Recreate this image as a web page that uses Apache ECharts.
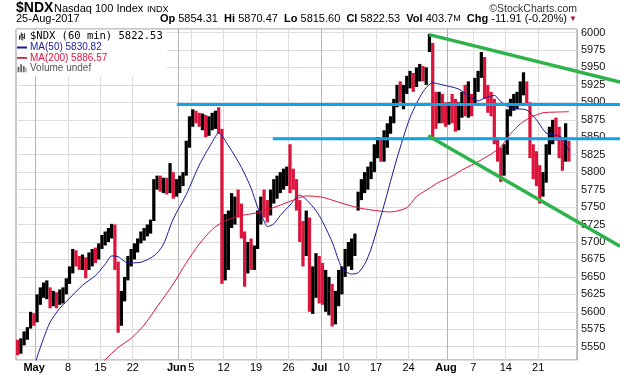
<!DOCTYPE html>
<html><head><meta charset="utf-8">
<script src="https://cdn.jsdelivr.net/npm/echarts@6/dist/echarts.min.js"></script>
<style>html,body{margin:0;padding:0;background:#fff}#c{width:620px;height:376px}</style>
</head><body><div id="c"></div><script>
// ---------- DATA ----------
const tradingDays = [
 '2017-04-26','2017-04-27','2017-04-28',
 '2017-05-01','2017-05-02','2017-05-03','2017-05-04','2017-05-05',
 '2017-05-08','2017-05-09','2017-05-10','2017-05-11','2017-05-12',
 '2017-05-15','2017-05-16','2017-05-17','2017-05-18','2017-05-19',
 '2017-05-22','2017-05-23','2017-05-24','2017-05-25','2017-05-26',
 '2017-05-30','2017-05-31',
 '2017-06-01','2017-06-02',
 '2017-06-05','2017-06-06','2017-06-07','2017-06-08','2017-06-09',
 '2017-06-12','2017-06-13','2017-06-14','2017-06-15','2017-06-16',
 '2017-06-19','2017-06-20','2017-06-21','2017-06-22','2017-06-23',
 '2017-06-26','2017-06-27','2017-06-28','2017-06-29','2017-06-30',
 '2017-07-03','2017-07-05','2017-07-06','2017-07-07',
 '2017-07-10','2017-07-11','2017-07-12','2017-07-13','2017-07-14',
 '2017-07-17','2017-07-18','2017-07-19','2017-07-20','2017-07-21',
 '2017-07-24','2017-07-25','2017-07-26','2017-07-27','2017-07-28',
 '2017-07-31',
 '2017-08-01','2017-08-02','2017-08-03','2017-08-04',
 '2017-08-07','2017-08-08','2017-08-09','2017-08-10','2017-08-11',
 '2017-08-14','2017-08-15','2017-08-16','2017-08-17','2017-08-18',
 '2017-08-21','2017-08-22','2017-08-23','2017-08-24','2017-08-25'
];
const halfDays = ['2017-07-03'];
const padSlots = 2;
const firstOpen = 5550;

// half-day price ranges (low / high / close)
const lows = [5538,5540,5552,5560,5576,5580,5585,5610,5620,5618, 5605,5608,5605,5610,5612,5625,5640,5655,5665,5660,
 5660,5648,5660,5665,5670,5675,5690,5695,5700,5705, 5660,5570,5580,5615,5645,5665,5675,5685,5698,5702,
 5708,5712,5730,5775,5772,5770,5768,5770,5762,5765, 5770,5780,5795,5835,5865,5870,5865,5860,5850,5852,
 5860,5862,5855,5640,5645,5660,5720,5725,5735,5705, 5636,5655,5660,5660,5690,5725,5735,5728,5738,5755,
 5762,5770,5775,5780,5770,5775,5745,5700,5665,5680, 5600,5597,5620,5612,5610,5600,5595,5579,5582,5608,
 5625,5650,5665,5660,5680,5745,5760,5770,5775,5790, 5800,5820,5815,5815,5835,5855,5870,5893,5900,5890,
 5912,5920,5915,5922,5930,5930,5925,5972,5848,5862, 5870,5870,5865,5868,5870,5858,5860,5878,5880,5878,
 5880,5895,5915,5935,5905,5885,5880,5840,5815,5786, 5795,5825,5880,5888,5890,5895,5910,5895,5820,5790,
 5780,5755,5765,5785,5825,5840,5845,5820,5802,5815, 5815];
const highs = [5560,5562,5572,5578,5600,5598,5625,5635,5642,5645, 5635,5630,5628,5632,5635,5648,5665,5690,5688,5680,
 5682,5678,5685,5690,5692,5698,5710,5715,5720,5726, 5725,5672,5630,5650,5680,5690,5698,5705,5715,5720,
 5725,5732,5790,5795,5795,5792,5792,5813,5800,5790, 5795,5800,5845,5880,5890,5888,5885,5884,5882,5880,
 5885,5888,5893,5862,5740,5745,5770,5765,5775,5755, 5715,5700,5705,5695,5745,5765,5775,5760,5775,5790,
 5795,5800,5805,5808,5840,5805,5790,5760,5730,5745, 5735,5665,5684,5680,5670,5660,5650,5640,5630,5660,
 5665,5690,5700,5705,5712,5772,5790,5800,5808,5815, 5840,5850,5848,5860,5870,5880,5905,5925,5930,5925,
 5938,5945,5942,5950,5955,5952,5950,5998,5985,5915, 5915,5912,5900,5900,5912,5905,5900,5915,5925,5930,
 5912,5935,5945,5972,5965,5925,5915,5905,5850,5835, 5840,5890,5905,5912,5915,5930,5943,5930,5900,5840,
 5830,5810,5800,5840,5865,5875,5878,5865,5850,5870, 5845];
const closes = [5545,5556,5566,5574,5590,5586,5615,5628,5630,5635, 5615,5620,5612,5625,5630,5645,5660,5680,5672,5668,
 5675,5665,5678,5685,5682,5695,5705,5710,5712,5722, 5670,5590,5620,5645,5670,5685,5690,5700,5710,5715,
 5718,5728,5785,5785,5780,5788,5775,5790,5775,5780, 5790,5797,5840,5875,5880,5876,5872,5878,5860,5870,
 5878,5880,5860,5690,5700,5730,5745,5755,5745,5720, 5670,5690,5680,5688,5740,5755,5750,5740,5768,5780,
 5785,5790,5795,5800,5790,5785,5755,5710,5700,5735, 5640,5650,5670,5640,5620,5630,5640,5595,5610,5645,
 5655,5680,5690,5695,5708,5768,5785,5790,5800,5810, 5835,5835,5830,5850,5860,5870,5900,5915,5910,5915,
 5930,5935,5925,5942,5945,5938,5945,5980,5885,5880, 5895,5885,5875,5890,5880,5875,5890,5905,5895,5900,
 5895,5925,5940,5950,5915,5905,5895,5850,5825,5800, 5828,5885,5895,5900,5905,5920,5925,5900,5830,5805,
 5800,5775,5790,5835,5855,5860,5850,5835,5830,5835, 5822.53];

// moving averages: [slot index, value]
const ma50 = [[3,5490],[6,5535],[8,5562],[10,5585],[13,5605],[17,5624],[20,5638],[24,5652],[27,5668],[29,5680],
 [31,5679],[34,5670],[38,5671],[41,5677],[43,5684],[45,5697],[48,5733],[52,5768],[56,5810],[60,5843],[62,5856],
 [65,5838],[69,5807],[72,5777],[74,5750],[76,5730],[77,5722],[79,5726],[81,5738],[84,5753],[87,5767],[90,5756],
 [93,5738],[97,5700],[100,5663],[103,5654],[105,5656],[107,5668],[109,5690],[113,5753],[117,5820],[121,5878],
 [125,5915],[128,5928],[131,5925],[136,5919],[140,5906],[142,5902],[144,5906],[147,5910],[149,5901],[152,5892],
 [157,5889],[160,5875],[163,5856],[166,5853],[168,5849],[170,5830.82]];
const ma200 = [[22,5500],[27,5531],[31,5549],[35,5562],[39,5581],[43,5607],[48,5640],[52,5670],[56,5697],[60,5718],
 [63,5728],[66,5734],[69,5738],[74,5742],[80,5751],[85,5760],[89,5766],[94,5764],[99,5757],[105,5749],[112,5744],
 [115,5743],[120,5749],[123,5765],[127,5777],[130,5786],[133,5792],[137,5803],[142,5815],[146,5826],[149,5836],
 [152,5855],[155,5869],[158,5878],[162,5885],[166,5886],[170,5886.57]];

// drawn annotation lines: [slot, value] -> [slot|'edge', value]
const hLevels = [[[49.1,5897],['edge',5897]], [[78.7,5848],['edge',5848]]];
const trendLines = [[[126.9,5997],['edge',5929]], [[126.6,5852],['edge',5694]]];

// x tick labels: [date, text, isMonth]
const xTicks = [['2017-05-01','May',1],['2017-05-08','8'],['2017-05-15','15'],['2017-05-22','22'],
 ['2017-06-01','Jun',1],['2017-06-05','5'],['2017-06-12','12'],['2017-06-19','19'],['2017-06-26','26'],
 ['2017-07-03','Jul',1],['2017-07-10','10'],['2017-07-17','17'],['2017-07-24','24'],
 ['2017-08-01','Aug',1],['2017-08-07','7'],['2017-08-14','14'],['2017-08-21','21']];
const yRange = [5531, 6005];
const yStep = 25;

const seriesNames = ['$NDX (60 min) 5822.53','MA(50) 5830.82','MA(200) 5886.57','Volume undef'];
const headStats = [['Op','5854.31'],['Hi','5870.47'],['Lo','5815.60'],['Cl','5822.53'],['Vol','403.7','M'],['Chg','-11.91 (-0.20%)']];

// ---------- BUILD ----------
const slots = [];
tradingDays.forEach(d => { slots.push(d + ' AM'); if (!halfDays.includes(d)) slots.push(d + ' PM'); });
for (let i = 0; i < padSlots; i++) slots.push('pad' + i);
const price = closes.map((c, i) => [i, i ? closes[i - 1] : firstOpen, c, lows[i], highs[i]]);
const tickMap = new Map(xTicks.map(t => [t[0] + ' AM', t]));

const W = 620, GL = 16, GR = 43, GT = 29, GB = 16;
const plotW = W - GL - GR;
const edge = -0.5 + slots.length * (W - GL) / plotW;
const fixEdge = seg => seg.map(p => [p[0] === 'edge' ? edge : p[0], p[1]]);

const FF = "'Liberation Sans', Arial, sans-serif";
const RED = '#DC143C', NAVY = '#1A1A9C', BLUE = '#12A2E6', GREEN = '#2DB34A';

const headText = headStats.map(s => '{b|' + s[0] + '} ' + s[1] + (s[2] ? '{s|' + s[2] + '}' : '')).join('  ') + '{t| ▼}';
// thin dash icon (corner specks keep the full icon box)
const dashIcon = 'path://M0,3.2h10v1.8h-10zM0,0h0.01v0.01h-0.01zM9.99,7.99h0.01v0.01h-0.01z';

const option = {
  animation: false,
  backgroundColor: '#fff',
  title: [
    {text: '$NDX', left: GL, top: 1, padding: 0, textStyle: {fontFamily: FF, fontSize: 14, fontWeight: 'bold', color: '#000'}},
    {text: 'Nasdaq 100 Index', left: 54, top: 3.5, padding: 0, textStyle: {fontFamily: FF, fontSize: 11, fontWeight: 'normal', color: '#000'}},
    {text: 'INDX', left: 147, top: 5.3, padding: 0, textStyle: {fontFamily: FF, fontSize: 9, fontWeight: 'normal', color: '#000'}},
    {text: '©StockCharts.com', right: GR, top: 3.7, padding: 0, textStyle: {fontFamily: FF, fontSize: 10.5, fontWeight: 'normal', color: '#333'}},
    {text: '25-Aug-2017', left: GL, top: 13.2, padding: 0, textStyle: {fontFamily: FF, fontSize: 11, fontWeight: 'normal', color: '#000'}},
    {text: headText, right: GR, top: 13.2, padding: 0, textStyle: {fontFamily: FF, fontSize: 11, fontWeight: 'normal', color: '#000',
      rich: {b: {fontFamily: FF, fontSize: 11, fontWeight: 'bold', color: '#000'}, s: {fontFamily: FF, fontSize: 9, color: '#000'}, t: {fontFamily: FF, fontSize: 8, color: '#A8102E'}}}}
  ],
  legend: {
    orient: 'vertical', left: GL + 1, top: GT + 1, itemGap: 0.4, itemWidth: 10, itemHeight: 8,
    backgroundColor: '#fff', padding: [1, 4, 3, 0], selectedMode: false, z: 6,
    textStyle: {fontFamily: FF, fontSize: 10, color: '#000', padding: [0, 0, 0, -2]},
    data: [
      {name: seriesNames[0], icon: 'path://M0,3h1v6h-1zM1,5h1v1h-1zM2,0h1v9h-1zM3,2h1v1h-1zM4,2h1v8h-1zM5,6h1v1h-1zM6,1h1v7h-1z',
       textStyle: {fontFamily: "'DejaVu Sans Mono', monospace", fontSize: 10.5, color: '#000'}},
      {name: seriesNames[1], icon: dashIcon, itemStyle: {color: NAVY}, textStyle: {color: NAVY}},
      {name: seriesNames[2], icon: dashIcon, itemStyle: {color: RED}, textStyle: {color: RED}},
      {name: seriesNames[3], icon: 'path://M0,4h2v6h-2zM3,1h2v9h-2zM6,3h2v7h-2zM9,5h1v5h-1z', textStyle: {color: '#555'}}
    ]
  },
  grid: [
    {left: GL, right: GR, top: GT, bottom: GB, show: true, borderColor: '#8E8E8E', borderWidth: 1, backgroundColor: 'transparent'},
    {left: GL, right: 0, top: GT, bottom: GB, show: false}
  ],
  xAxis: [
    {type: 'category', gridIndex: 0, data: slots, boundaryGap: true,
     axisLine: {show: false}, axisTick: {show: false},
     axisLabel: {interval: (i, v) => tickMap.has(v), margin: 2, fontFamily: FF, fontSize: 11, color: '#000', padding: [0, 3, 0, 0],
       formatter: v => { const t = tickMap.get(v); return t ? (t[2] ? '{m|' + t[1] + '}' : t[1]) : ''; },
       rich: {m: {fontFamily: FF, fontSize: 11, fontWeight: 'bold', color: '#000', padding: [0, 3, 0, 0]}}},
     splitLine: {show: true, interval: (i, v) => { const t = tickMap.get(v); return !!t && !t[2]; }, lineStyle: {color: '#DCDCDC', width: 1}}},
    {type: 'category', gridIndex: 0, data: slots, boundaryGap: true,
     axisLine: {show: false}, axisTick: {show: false}, axisLabel: {show: false},
     splitLine: {show: true, interval: (i, v) => { const t = tickMap.get(v); return !!t && !!t[2]; }, lineStyle: {color: '#B4B4B4', width: 1}}},
    {type: 'value', gridIndex: 1, min: -0.5, max: edge, show: false}
  ],
  yAxis: [
    {type: 'value', gridIndex: 0, position: 'right', min: yRange[0], max: yRange[1], minInterval: yStep, maxInterval: yStep, splitNumber: 19,
     axisLine: {show: false}, axisTick: {show: false},
     axisLabel: {margin: 4, fontFamily: FF, fontSize: 11, color: '#111', formatter: v => (v % yStep === 0 ? String(v) : '')},
     splitLine: {show: true, lineStyle: {color: '#DCDCDC', width: 1}}},
    {type: 'value', gridIndex: 1, min: yRange[0], max: yRange[1], show: false}
  ],
  series: [
    {name: seriesNames[0], type: 'custom', xAxisIndex: 0, yAxisIndex: 0, data: price, encode: {x: 0, y: [1, 2, 3, 4]},
     itemStyle: {color: '#000'}, z: 3, clip: true,
     renderItem: (params, api) => {
       const x = api.value(0);
       const lo = api.coord([x, api.value(3)]);
       const hi = api.coord([x, api.value(4)]);
       const w = api.size([1, 0])[0] * 1.0;
       return {type: 'rect', shape: {x: lo[0] - w / 2, y: hi[1], width: w, height: Math.max(1, lo[1] - hi[1])},
               style: {fill: api.value(2) >= api.value(1) ? '#000' : RED}};
     }},
    {name: seriesNames[1], type: 'line', xAxisIndex: 0, yAxisIndex: 0, data: ma50, symbol: 'none', smooth: 0.25, z: 4,
     lineStyle: {color: NAVY, width: 1}, itemStyle: {color: NAVY}},
    {name: seriesNames[2], type: 'line', xAxisIndex: 0, yAxisIndex: 0, data: ma200, symbol: 'none', smooth: 0.25, z: 4,
     lineStyle: {color: RED, width: 1}, itemStyle: {color: RED}},
    {name: seriesNames[3], type: 'bar', xAxisIndex: 0, yAxisIndex: 0, data: [], itemStyle: {color: '#666'}},
    ...hLevels.map(seg => ({type: 'line', xAxisIndex: 2, yAxisIndex: 1, data: fixEdge(seg), symbol: 'none', z: 8,
       lineStyle: {color: BLUE, width: 3}, silent: true})),
    ...trendLines.map(seg => ({type: 'line', xAxisIndex: 2, yAxisIndex: 1, data: fixEdge(seg), symbol: 'none', z: 9,
       lineStyle: {color: GREEN, width: 3.5}, silent: true}))
  ]
};
const chart = echarts.init(document.getElementById('c'), null, {renderer: 'canvas'});
chart.setOption(option);
</script></body></html>
